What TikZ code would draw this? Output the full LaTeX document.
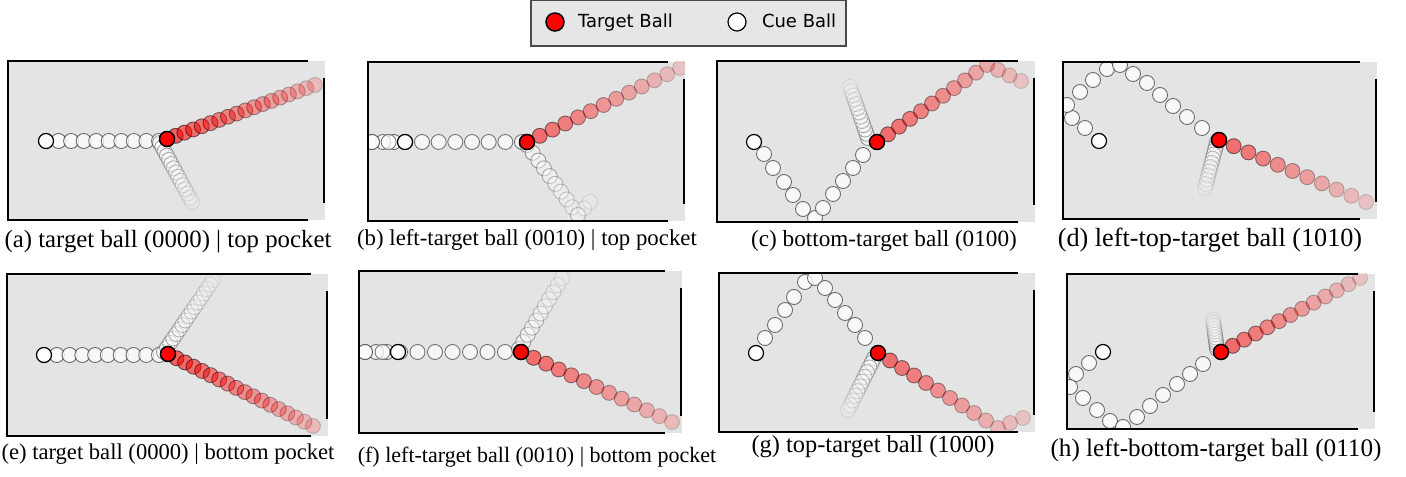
\documentclass[tikz,border=0pt]{standalone}
\usepackage{fontspec}
\setmainfont{Liberation Serif}
\setsansfont{DejaVu Sans}
\usetikzlibrary{calc}
\definecolor{felt}{HTML}{E4E4E4}
\definecolor{keyfill}{HTML}{E6E6E6}
\definecolor{keyedge}{HTML}{4A4A4A}
\definecolor{targetred}{HTML}{FF0000}
\tikzset{
  felttop/.style={fill=felt},
  cushion/.style={draw=black,line width=1bp},
  cueball/.style={fill=white,draw=black,line width=0.6bp},
  cuetrail/.style={fill=white,draw=black!75,line width=0.45bp},
  targetball/.style={fill=targetred,draw=black,line width=0.75bp},
  targettrail/.style={fill=targetred,draw=black,line width=0.45bp},
  caption/.style={anchor=base,font=\fontsize{#1}{#1}\selectfont,text=black},
  caption/.default=11bp,
  keytext/.style={anchor=base west,font=\sffamily\fontsize{9bp}{10bp}\selectfont,text=black},
  key/.style={fill=keyfill,draw=keyedge,line width=0.6bp}
}
% balls along a straight run: style, from, to, steps, first opacity, last opacity
\newcommand{\balltrail}[6]{%
  \foreach \k in {0,...,#4}{%
    \pgfmathsetmacro{\trailt}{\k/#4}%
    \pgfmathsetmacro{\trailo}{#5+(#6-#5)*\k/#4}%
    \path[#1,opacity=\trailo] ($#2!\trailt!#3$) circle[radius=7.5];}}
% table top, then rails
\newcommand{\pooltable}[2]{\fill[felttop] (0,0) rectangle (#1,#2);}
\newcommand{\poolrails}[2]{%
  \draw[cushion] (#1-17,0) -- (0,0) -- (0,#2) -- (#1-17,#2);
  \draw[cushion] (#1-1,17) -- (#1-1,#2-17);}

\begin{document}
\begin{tikzpicture}[x=0.5bp,y=-0.5bp,every node/.style={inner sep=0pt,outer sep=0pt}]
\path[use as bounding box] (0,0) rectangle (1406,477);

% legend
\draw[key] (531,0) rectangle (846,46);
\path[targetball] (555,22) circle[radius=9];
\node[keytext] (key-target) at (578,28) {Target Ball};
\path[cueball] (737,22) circle[radius=9];
\node[keytext] (key-cue) at (762,28) {Cue Ball};

% (a)
\begin{scope}[shift={(8,61)}]
\pooltable{317}{159}
\begin{scope}
\clip (0,0) rectangle (317,159);
\balltrail{cuetrail}{(38,80)}{(151,80)}{9}{0.8}{0.7}
\balltrail{cuetrail}{(152,82)}{(184,141)}{14}{0.5}{0.1}
\balltrail{targettrail}{(159,78)}{(307,24)}{17}{0.6}{0.18}
\path[targetball] (159,78) circle[radius=7.5];
\path[cueball] (38,80) circle[radius=7.5];
\end{scope}
\poolrails{317}{159}
\end{scope}
\node[caption=12.4bp] (cap-a) at (168,248) {(a) target ball (0000) | top pocket};

% (b)
\begin{scope}[shift={(368,62)}]
\pooltable{317}{159}
\begin{scope}
\clip (0,0) rectangle (317,159);
\balltrail{cuetrail}{(37,80)}{(4,80)}{3}{0.8}{0.7}
\balltrail{cuetrail}{(4,80)}{(154,80)}{9}{0.7}{0.7}
\balltrail{cuetrail}{(159,83)}{(210,153)}{9}{0.55}{0.2}
\balltrail{cuetrail}{(210,153)}{(222,140)}{2}{0.2}{0.12}
\balltrail{targettrail}{(159,80)}{(312,6)}{12}{0.55}{0.15}
\path[targetball] (159,80) circle[radius=7.5];
\path[cueball] (37,80) circle[radius=7.5];
\end{scope}
\poolrails{317}{159}
\end{scope}
\node[caption=11.4bp] (cap-b) at (527,246) {(b) left-target ball (0010) | top pocket};

% (c)
\begin{scope}[shift={(717,61)}]
\pooltable{318}{161}
\begin{scope}
\clip (0,0) rectangle (318,161);
\foreach \p in {(47,93),(56,107),(67,121),(76,134),(86,148),(98,157),(106,147),(116,133),(126,120),(136,107),(146,94)}
  \path[cuetrail,opacity=0.75] \p circle[radius=7.5];
\balltrail{cuetrail}{(151,77)}{(133,26)}{12}{0.5}{0.1}
\balltrail{targettrail}{(160,81)}{(270,4)}{10}{0.55}{0.25}
\balltrail{targettrail}{(281,9)}{(304,20)}{2}{0.22}{0.15}
\path[targetball] (160,81) circle[radius=7.5];
\path[cueball] (37,81) circle[radius=7.5];
\end{scope}
\poolrails{318}{161}
\end{scope}
\node[caption=11.6bp] (cap-c) at (884,247) {(c) bottom-target ball (0100)};

% (d)
\begin{scope}[shift={(1063,62)}]
\pooltable{314}{157}
\begin{scope}
\clip (0,0) rectangle (314,157);
\foreach \p in {(22,66),(9,56),(4,43),(17,30),(30,18),(44,7),(57,3),(70,12),(84,21),(97,33),(110,44),(124,55),(139,66)}
  \path[cuetrail,opacity=0.75] \p circle[radius=7.5];
\balltrail{cuetrail}{(154,80)}{(142,126)}{11}{0.5}{0.1}
\balltrail{targettrail}{(156,78)}{(303,140)}{10}{0.55}{0.15}
\path[targetball] (156,78) circle[radius=7.5];
\path[cueball] (36,79) circle[radius=7.5];
\end{scope}
\poolrails{314}{157}
\end{scope}
\node[caption=13.1bp] (cap-d) at (1210,247) {(d) left-top-target ball (1010)};

% (e)
\begin{scope}[shift={(7,274)}]
\pooltable{321}{162}
\begin{scope}
\clip (0,0) rectangle (321,162);
\balltrail{cuetrail}{(37,81)}{(152,81)}{9}{0.8}{0.7}
\balltrail{cuetrail}{(157,78)}{(206,6)}{16}{0.5}{0.1}
\balltrail{targettrail}{(161,80)}{(306,152)}{17}{0.6}{0.18}
\path[targetball] (161,80) circle[radius=7.5];
\path[cueball] (37,81) circle[radius=7.5];
\end{scope}
\poolrails{321}{162}
\end{scope}
\node[caption=11.3bp] (cap-e) at (168,460) {(e) target ball (0000) | bottom pocket};

% (f)
\begin{scope}[shift={(359,271)}]
\pooltable{323}{162}
\begin{scope}
\clip (0,0) rectangle (323,162);
\balltrail{cuetrail}{(39,81)}{(6,81)}{3}{0.8}{0.7}
\balltrail{cuetrail}{(6,81)}{(146,81)}{8}{0.7}{0.7}
\balltrail{cuetrail}{(160,78)}{(203,7)}{10}{0.5}{0.12}
\balltrail{targettrail}{(162,81)}{(313,151)}{12}{0.55}{0.18}
\path[targetball] (162,81) circle[radius=7.5];
\path[cueball] (39,81) circle[radius=7.5];
\end{scope}
\poolrails{323}{162}
\end{scope}
\node[caption=11bp] (cap-f) at (537,463) {(f) left-target ball (0010) | bottom pocket};

% (g)
\begin{scope}[shift={(719,273)}]
\pooltable{316}{159}
\begin{scope}
\clip (0,0) rectangle (316,159);
\foreach \p in {(46,65),(56,52),(66,37),(75,24),(86,9),(96,5),(106,15),(116,27),(126,40),(136,52),(146,65)}
  \path[cuetrail,opacity=0.75] \p circle[radius=7.5];
\balltrail{cuetrail}{(155,85)}{(129,137)}{11}{0.5}{0.1}
\balltrail{targettrail}{(159,80)}{(279,155)}{10}{0.55}{0.2}
\balltrail{targettrail}{(291,150)}{(304,145)}{1}{0.18}{0.15}
\path[targetball] (159,80) circle[radius=7.5];
\path[cueball] (37,80) circle[radius=7.5];
\end{scope}
\poolrails{316}{159}
\end{scope}
\node[caption=12.2bp] (cap-g) at (873,453) {(g) top-target ball (1000)};

% (h)
\begin{scope}[shift={(1067,274)}]
\pooltable{308}{155}
\begin{scope}
\clip (0,0) rectangle (308,155);
\foreach \p in {(22,89),(9,100),(3,113),(16,124),(30,136),(43,147),(56,153),(70,143),(83,132),(96,121),(110,110),(123,100),(136,90)}
  \path[cuetrail,opacity=0.75] \p circle[radius=7.5];
\balltrail{cuetrail}{(150,75)}{(146,46)}{10}{0.5}{0.1}
\balltrail{targettrail}{(154,78)}{(293,4)}{12}{0.55}{0.15}
\path[targetball] (154,78) circle[radius=7.5];
\path[cueball] (36,78) circle[radius=7.5];
\end{scope}
\poolrails{308}{155}
\end{scope}
\node[caption=12.6bp] (cap-h) at (1216,457) {(h) left-bottom-target ball (0110)};
\end{tikzpicture}
\end{document}
